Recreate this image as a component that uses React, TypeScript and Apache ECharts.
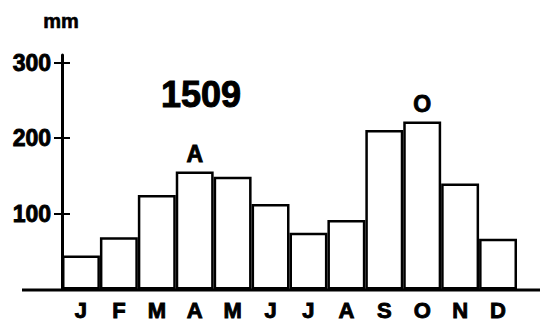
import React, { useEffect, useRef } from "react";
import * as echarts from "echarts";

const months = ["J", "F", "M", "A", "M", "J", "J", "A", "S", "O", "N", "D"];
const rainfall = [45, 69, 125, 156, 149, 113, 75, 92, 211, 222, 140, 67];
const peakLabels = ["", "", "", "A", "", "", "", "", "", "O", "", ""];
const yTicks = [100, 200, 300];
const totalLabel = "1509";
const unitLabel = "mm";

const FONT = "'Liberation Sans', Arial, Helvetica, sans-serif";
const heavy = { textBorderColor: "#000", textBorderWidth: 0.9 };

export default function App() {
  const ref = useRef<HTMLDivElement>(null);
  useEffect(() => {
    if (!ref.current) return;
    const chart = echarts.init(ref.current, null, { renderer: "svg" });
    const gridLeft = 62;
    const gridRight = 29;
    const gridTop = 55;
    const gridBottom = 32;
    const axisY = 322 - gridBottom;
    chart.setOption({
      animation: false,
      backgroundColor: "#ffffff",
      grid: { left: gridLeft, right: gridRight, top: gridTop, bottom: gridBottom },
      xAxis: {
        type: "category",
        data: months,
        axisLine: { show: false },
        axisTick: { show: false },
        axisLabel: {
          color: "#000",
          fontFamily: FONT,
          fontWeight: "bold",
          fontSize: 22,
          margin: 10,
          ...heavy,
        },
      },
      yAxis: [
        {
          type: "value",
          min: 0,
          max: 310,
          interval: 100,
          splitLine: { show: false },
          axisLine: { show: true, lineStyle: { color: "#000", width: 3 } },
          axisTick: {
            show: true,
            length: 8,
            lineStyle: { color: "#000", width: 2 },
            customValues: yTicks,
          },
          axisLabel: {
            color: "#000",
            fontFamily: FONT,
            fontWeight: "bold",
            fontSize: 23,
            margin: 11,
            customValues: yTicks,
            ...heavy,
          },
        },
        {
          type: "value",
          position: "left",
          min: 0,
          max: 310,
          interval: 100,
          splitLine: { show: false },
          axisLine: { show: false },
          axisTick: {
            show: true,
            inside: true,
            length: 8,
            lineStyle: { color: "#000", width: 2 },
            customValues: yTicks,
          },
          axisLabel: { show: false },
        },
      ],
      series: [
        {
          type: "bar",
          barCategoryGap: "0%",
          data: rainfall.map((v, i) => ({
            value: v,
            label: peakLabels[i]
              ? {
                  show: true,
                  position: "top",
                  distance: 6,
                  formatter: peakLabels[i],
                  color: "#000",
                  fontFamily: FONT,
                  fontWeight: "bold",
                  fontSize: 23,
                  ...heavy,
                }
              : { show: false },
          })),
          itemStyle: { color: "#ffffff", borderColor: "#000", borderWidth: 2.5 },
          z: 2,
        },
      ],
      graphic: [
        {
          type: "line",
          shape: { x1: 22, y1: axisY, x2: 540, y2: axisY },
          style: { stroke: "#000", lineWidth: 3 },
          z: 10,
        },
        {
          type: "text",
          x: 61,
          y: 21,
          style: {
            text: unitLabel,
            fill: "#000",
            font: `bold 20px ${FONT}`,
            textAlign: "center",
            textVerticalAlign: "middle",
            stroke: "#000",
            lineWidth: 0.6,
          },
        },
        {
          type: "text",
          x: 201,
          y: 94,
          style: {
            text: totalLabel,
            fill: "#000",
            font: `bold 36px ${FONT}`,
            textAlign: "center",
            textVerticalAlign: "middle",
            stroke: "#000",
            lineWidth: 1,
          },
        },
      ],
    });
    return () => chart.dispose();
  }, []);
  return <div ref={ref} style={{ width: 546, height: 322, position: "absolute", left: 0, top: 0 }} />;
}
